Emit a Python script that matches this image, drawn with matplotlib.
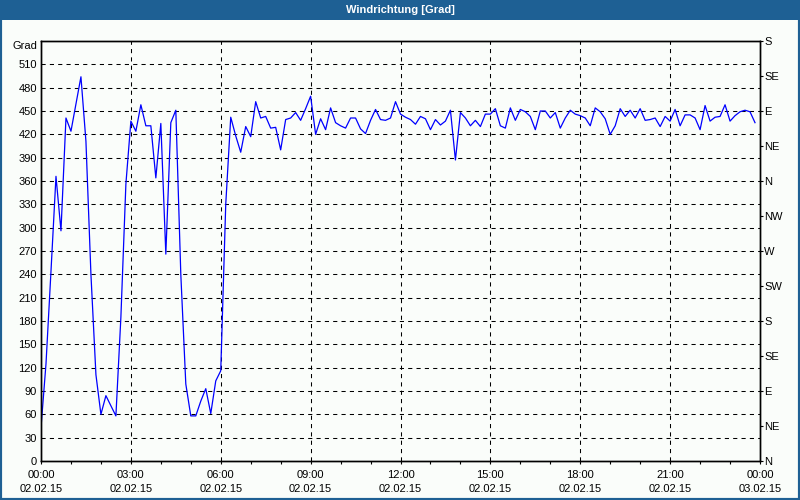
import numpy as np
import matplotlib.pyplot as plt
from matplotlib.patches import Rectangle

plt.rcParams['font.family'] = ['Liberation Sans', 'DejaVu Sans']

# wind direction in degrees, one reading every 10 min, 02.02.15 00:00 .. 23:50
direction = [
    43, 125, 244, 366, 296, 441, 424, 459, 494, 411,
    240, 111, 60, 84, 71, 58, 185, 356, 437, 424,
    458, 431, 431, 364, 434, 266, 435, 451, 240, 99,
    58, 58, 77, 93, 61, 103, 116, 330, 442, 418,
    397, 430, 417, 462, 441, 443, 428, 429, 400, 439,
    441, 448, 438, 453, 469, 420, 440, 426, 454, 435,
    431, 428, 441, 441, 427, 421, 438, 452, 439, 438,
    441, 462, 446, 442, 439, 433, 443, 440, 426, 439,
    432, 437, 451, 387, 448, 441, 431, 438, 430, 446,
    446, 453, 431, 428, 454, 438, 452, 449, 443, 426,
    450, 450, 441, 448, 428, 441, 451, 446, 444, 441,
    431, 454, 449, 440, 420, 431, 453, 443, 451, 441,
    453, 438, 439, 441, 430, 443, 437, 452, 431, 445,
    445, 441, 426, 457, 437, 442, 443, 458, 437, 444,
    449, 451, 449, 435,
]
hours = np.arange(len(direction)) / 6.0

x_ticks = [0, 3, 6, 9, 12, 15, 18, 21, 24]
x_labels = ['00:00\n02.02.15', '03:00\n02.02.15', '06:00\n02.02.15',
            '09:00\n02.02.15', '12:00\n02.02.15', '15:00\n02.02.15',
            '18:00\n02.02.15', '21:00\n02.02.15', '00:00\n03.02.15']
y_ticks = list(range(0, 511, 30))
compass_ticks = list(range(0, 541, 45))
compass_labels = ['N', 'NE', 'E', 'SE', 'S', 'SW', 'W', 'NW',
                  'N', 'NE', 'E', 'SE', 'S']

bar_blue = '#1E6094'
bg = '#FAFDFA'

fig = plt.figure(figsize=(8, 5), dpi=100, facecolor=bg)
ax = fig.add_axes([41 / 800, 39 / 500, 719 / 800, 420 / 500], facecolor=bg)

ax.plot(hours, direction, color='#0000FF', lw=0.9)

ax.set_xlim(0, 24)
ax.set_ylim(0, 540)

# grid
for y in y_ticks[1:]:
    ax.axhline(y, color='black', lw=0.75, ls=(0, (4, 4)), zorder=0)
for x in x_ticks[1:-1]:
    ax.axvline(x, color='black', lw=0.75, ls=(0, (4, 4)), zorder=0)

for s in ax.spines.values():
    s.set_linewidth(1.0)
    s.set_color('black')

ax.set_yticks(y_ticks)
ax.set_yticklabels([str(v) for v in y_ticks])
ax.tick_params(axis='y', length=0, pad=3, labelsize=8)

ax.set_xticks(x_ticks)
ax.set_xticklabels(x_labels)
ax.set_xticks(range(0, 25), minor=True)
ax.tick_params(axis='x', which='both', direction='out', length=2.5,
               width=0.8, pad=4, labelsize=8)
for lab in ax.get_xticklabels():
    lab.set_linespacing(1.55)

ax2 = ax.twinx()
ax2.set_ylim(0, 540)
ax2.set_yticks(compass_ticks)
ax2.set_yticklabels(compass_labels)
ax2.tick_params(axis='y', direction='out', length=2, width=0.8, pad=1,
                labelsize=8)
for s in ax2.spines.values():
    s.set_linewidth(1.0)

fig.text(37 / 800, 1 - 46 / 500, 'Grad', ha='right', va='center', fontsize=8)

# title bar and frame
fig.patches.append(Rectangle((0, 1 - 20 / 500), 1, 20 / 500,
                             transform=fig.transFigure, facecolor=bar_blue,
                             edgecolor='none', zorder=0))
fig.patches.append(Rectangle((0, 0), 1, 1, transform=fig.transFigure,
                             fill=False, edgecolor=bar_blue, lw=3))
fig.text(0.5, 1 - 10 / 500, 'Windrichtung [Grad]', ha='center', va='center',
         color='white', fontsize=8, fontweight='bold')

fig.savefig('out.png', dpi=100, facecolor=bg)
